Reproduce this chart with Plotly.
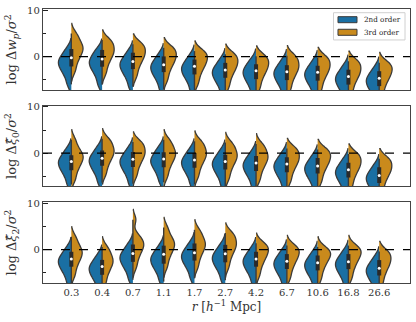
import numpy as np
import plotly.graph_objects as go
from plotly.subplots import make_subplots

R_LABELS = ["0.3", "0.4", "0.7", "1.1", "1.7", "2.7", "4.2", "6.7", "10.6", "16.8", "26.6"]
SERIES = ["2nd order", "3rd order"]

# Panel 1: log Δw_p / σ²
WP_2ND = [
    [-6.0, -4.2, -3.1, -2.3, -1.6, -1.0, -0.4, 0.4, 1.7],
    [-6.1, -4.3, -3.1, -2.3, -1.6, -1.0, -0.4, 0.5, 1.6],
    [-6.5, -4.7, -3.6, -2.8, -2.1, -1.5, -0.9, -0.1, 1.2],
    [-7.1, -5.3, -4.2, -3.4, -2.7, -2.1, -1.5, -0.7, 0.6],
    [-7.4, -5.6, -4.5, -3.7, -3.0, -2.4, -1.8, -1.0, 0.3],
    [-8.2, -6.4, -5.3, -4.5, -3.8, -3.2, -2.6, -1.8, -0.5],
    [-8.1, -6.4, -5.3, -4.5, -3.8, -3.2, -2.6, -1.8, -0.6],
    [-8.4, -6.6, -5.5, -4.7, -4.0, -3.4, -2.8, -2.0, -0.7],
    [-8.6, -6.8, -5.7, -4.9, -4.2, -3.6, -3.0, -2.2, -0.9],
    [-9.6, -7.8, -6.7, -5.9, -5.2, -4.6, -4.0, -3.2, -1.9],
    [-10.0, -8.2, -7.1, -6.3, -5.6, -5.0, -4.4, -3.6, -2.3],
]
WP_3RD = [
    [-3.1, -1.3, -0.1, 0.8, 1.5, 2.1, 2.8, 3.8, 5.0],
    [-3.6, -1.8, -0.6, 0.3, 1.0, 1.6, 2.3, 3.3, 3.6],
    [-4.2, -2.4, -1.2, -0.3, 0.4, 1.0, 1.7, 2.7, 2.7],
    [-5.0, -3.2, -2.0, -1.1, -0.4, 0.2, 0.9, 1.9, 1.8],
    [-5.7, -3.9, -2.7, -1.8, -1.1, -0.5, 0.2, 1.2, 0.9],
    [-6.4, -4.6, -3.4, -2.5, -1.8, -1.2, -0.5, 0.5, 0.4],
    [-6.8, -5.0, -3.8, -2.9, -2.2, -1.6, -0.9, 0.1, 0.0],
    [-7.0, -5.2, -4.0, -3.1, -2.4, -1.8, -1.1, -0.1, 0.2],
    [-7.1, -5.3, -4.1, -3.2, -2.5, -1.9, -1.2, -0.2, -0.2],
    [-7.9, -6.1, -4.9, -4.0, -3.3, -2.7, -2.0, -1.0, -1.0],
    [-8.2, -6.4, -5.2, -4.3, -3.6, -3.0, -2.3, -1.3, -1.6],
]

# Panel 2: log Δξ̂0 / σ²
XI0_2ND = [
    [-6.8, -5.0, -3.9, -3.1, -2.4, -1.8, -1.2, -0.4, 0.9],
    [-6.4, -4.6, -3.5, -2.7, -2.0, -1.4, -0.8, 0.0, 1.3],
    [-6.6, -4.8, -3.7, -2.9, -2.2, -1.6, -1.0, -0.2, 1.1],
    [-6.3, -4.6, -3.5, -2.6, -2.0, -1.4, -0.8, 0.1, 1.3],
    [-6.8, -5.0, -3.9, -3.1, -2.4, -1.8, -1.2, -0.4, 0.9],
    [-7.1, -5.3, -4.2, -3.4, -2.7, -2.1, -1.5, -0.7, 0.6],
    [-7.4, -5.6, -4.5, -3.7, -3.0, -2.4, -1.8, -1.0, 0.3],
    [-7.6, -5.8, -4.7, -3.9, -3.2, -2.6, -2.0, -1.2, 0.1],
    [-8.1, -6.3, -5.2, -4.4, -3.7, -3.1, -2.5, -1.7, -0.4],
    [-8.9, -7.1, -6.0, -5.2, -4.5, -3.9, -3.3, -2.5, -1.2],
    [-10.2, -8.4, -7.3, -6.5, -5.8, -5.2, -4.6, -3.8, -2.5],
]
XI0_3RD = [
    [-5.7, -3.9, -2.7, -1.8, -1.1, -0.5, 0.2, 1.2, 2.9],
    [-4.5, -2.7, -1.5, -0.6, 0.1, 0.7, 1.4, 2.4, 3.1],
    [-4.8, -3.0, -1.8, -0.9, -0.2, 0.4, 1.1, 2.1, 2.4],
    [-5.0, -3.2, -2.0, -1.1, -0.4, 0.2, 0.9, 1.9, 2.9],
    [-5.0, -3.2, -2.0, -1.1, -0.4, 0.2, 0.9, 1.9, 2.6],
    [-5.4, -3.6, -2.4, -1.5, -0.8, -0.2, 0.5, 1.5, 2.3],
    [-5.7, -3.9, -2.7, -1.8, -1.1, -0.5, 0.2, 1.2, 2.0],
    [-6.0, -4.2, -3.0, -2.1, -1.4, -0.8, -0.1, 0.9, 1.0],
    [-6.1, -4.3, -3.1, -2.2, -1.5, -0.9, -0.2, 0.8, 0.6],
    [-7.1, -5.3, -4.1, -3.2, -2.5, -1.9, -1.2, -0.2, -0.2],
    [-8.1, -6.3, -5.1, -4.2, -3.5, -2.9, -2.2, -1.2, -1.2],
]

# Panel 3: log Δξ̂2 / σ²
XI2_2ND = [
    [-7.3, -5.5, -4.4, -3.6, -2.9, -2.3, -1.7, -0.9, 0.4],
    [-8.9, -7.1, -6.0, -5.2, -4.5, -3.9, -3.3, -2.5, -1.2],
    [-6.5, -4.7, -3.6, -2.8, -2.1, -1.5, -0.9, -0.1, 1.2],
    [-6.9, -5.1, -4.0, -3.2, -2.5, -1.9, -1.3, -0.5, 0.8],
    [-6.2, -4.4, -3.3, -2.5, -1.8, -1.2, -0.6, 0.2, 1.5],
    [-6.6, -4.8, -3.7, -2.9, -2.2, -1.6, -1.0, -0.2, 1.1],
    [-7.3, -5.5, -4.4, -3.6, -2.9, -2.3, -1.7, -0.9, 0.4],
    [-7.8, -6.0, -4.9, -4.1, -3.4, -2.8, -2.2, -1.4, -0.1],
    [-8.1, -6.3, -5.2, -4.4, -3.7, -3.1, -2.5, -1.7, -0.4],
    [-7.9, -6.1, -5.0, -4.2, -3.5, -2.9, -2.3, -1.5, -0.2],
    [-9.3, -7.5, -6.4, -5.6, -4.9, -4.3, -3.7, -2.9, -1.6],
]
XI2_3RD = [
    [-5.5, -3.7, -2.5, -1.6, -0.9, -0.3, 0.4, 1.4, 2.8],
    [-7.3, -5.5, -4.3, -3.4, -2.7, -2.1, -1.4, -0.4, 0.6],
    [-3.7, -1.9, -0.7, 0.2, 0.9, 1.5, 2.2, 3.2, 6.5],
    [-3.7, -1.9, -0.7, 0.2, 0.9, 1.5, 2.2, 3.2, 4.8],
    [-3.7, -1.9, -0.7, 0.2, 0.9, 1.5, 2.2, 3.2, 4.3],
    [-3.7, -1.9, -0.7, 0.2, 0.9, 1.5, 2.2, 3.2, 3.6],
    [-5.5, -3.7, -2.5, -1.6, -0.9, -0.3, 0.4, 1.4, 0.9],
    [-6.0, -4.2, -3.0, -2.1, -1.4, -0.8, -0.1, 0.9, 0.4],
    [-6.3, -4.5, -3.3, -2.4, -1.7, -1.1, -0.4, 0.6, -0.3],
    [-6.0, -4.2, -3.0, -2.1, -1.4, -0.8, -0.1, 0.9, 0.2],
    [-7.3, -5.5, -4.3, -3.4, -2.7, -2.1, -1.4, -0.4, -0.5],
]

PANELS = [
    (WP_2ND, WP_3RD, "log Δ<i>w</i><sub><i>p</i></sub>/<i>σ</i><sup>2</sup>"),
    (XI0_2ND, XI0_3RD, "log Δ<i>ξ\u0302</i><sub>0</sub>/<i>σ</i><sup>2</sup>"),
    (XI2_2ND, XI2_3RD, "log Δ<i>ξ\u0302</i><sub>2</sub>/<i>σ</i><sup>2</sup>"),
]

BLUE = "#1a6fa3"
ORANGE = "#c98a1c"
EDGE = "#3a3a3a"
FONT = "DejaVu Serif"

fig = make_subplots(rows=3, cols=1, shared_xaxes=True, vertical_spacing=0.057)

for i, (d2, d3, ylab) in enumerate(PANELS):
    row = i + 1
    for data, side, col, name in ((d2, "negative", BLUE, SERIES[0]), (d3, "positive", ORANGE, SERIES[1])):
        xs, ys = [], []
        for lab, vals in zip(R_LABELS, data):
            xs += [lab] * len(vals)
            ys += vals
        fig.add_trace(go.Violin(
            x=xs, y=ys, side=side, fillcolor=col, name=name,
            showlegend=False, line=dict(color=EDGE, width=1.3),
            width=0.84, bandwidth=1.1, points=False, spanmode="soft",
            scalemode="width", hoverinfo="skip",
        ), row=row, col=1)
    # inner box of the combined data of both halves
    for lab, a, b in zip(R_LABELS, d2, d3):
        v = np.array(a + b)
        q1, med, q3 = np.percentile(v, [25, 50, 75])
        lim = 1.5 * (q3 - q1)
        lo = v[v >= q1 - lim].min()
        hi = v[v <= q3 + lim].max()
        fig.add_trace(go.Scatter(x=[lab, lab], y=[lo, hi], mode="lines",
                                 line=dict(color=EDGE, width=1.4),
                                 showlegend=False, hoverinfo="skip"), row=row, col=1)
        fig.add_trace(go.Scatter(x=[lab, lab], y=[q1, q3], mode="lines",
                                 line=dict(color="#2a2a2a", width=4),
                                 showlegend=False, hoverinfo="skip"), row=row, col=1)
        fig.add_trace(go.Scatter(x=[lab], y=[med], mode="markers",
                                 marker=dict(color="white", size=3),
                                 showlegend=False, hoverinfo="skip"), row=row, col=1)
    fig.add_hline(y=0, line=dict(color="black", width=1.2, dash="dash"), layer="above", row=row, col=1)
    fig.update_yaxes(
        title=dict(text=ylab, font=dict(family=FONT, size=13, color="#333"), standoff=7),
        range=[-7.2, 10.3], tickvals=[0, 10], ticks="inside", ticklen=5, tickwidth=1.3,
        tickcolor="#222", minor=dict(tickvals=[-5, 5], ticks="inside", ticklen=2.5, tickcolor="#222"),
        showgrid=False, zeroline=False, showline=True, mirror=True, linecolor="#444", linewidth=1.3,
        tickfont=dict(family=FONT, size=10, color="#333"),
        row=row, col=1)

fig.update_xaxes(
    type="category", categoryorder="array", categoryarray=R_LABELS, range=[-0.92, 11.0],
    showgrid=False, zeroline=False, showline=True, mirror=True, linecolor="#444", linewidth=1.3,
    ticks="", tickfont=dict(family=FONT, size=10, color="#333"),
)
fig.update_xaxes(title=dict(text="<i>r</i> [<i>h</i><sup>−1</sup> Mpc]",
                            font=dict(family=FONT, size=12, color="#333"), standoff=4), row=3, col=1)

# legend key in the upper panel
LEG_BOX = dict(x0=0.7916, x1=0.9864, y0=0.887, y1=0.9865)
LEG_ROWS = [(SERIES[0], BLUE, 0.961), (SERIES[1], ORANGE, 0.915)]
fig.add_shape(type="rect", xref="paper", yref="paper", **LEG_BOX,
              line=dict(color="#d0d0d0", width=1), fillcolor="rgba(255,255,255,0.85)", layer="above")
for name, col, yc in LEG_ROWS:
    fig.add_shape(type="rect", xref="paper", yref="paper", x0=0.8038, x1=0.8556,
                  y0=yc - 0.011, y1=yc + 0.011, fillcolor=col, line=dict(color=EDGE, width=1),
                  layer="above")
    fig.add_annotation(x=0.868, y=yc, xref="paper", yref="paper", text=name, showarrow=False,
                       xanchor="left", yanchor="middle", font=dict(family=FONT, size=7.2, color="#222"))

fig.update_layout(
    width=416, height=322, margin=dict(l=43, r=6, t=9, b=39),
    paper_bgcolor="white", plot_bgcolor="white",
    violinmode="overlay", violingap=0, violingroupgap=0,
    showlegend=False,
    font=dict(family=FONT),
)

fig.write_html("out.html", config={"displayModeBar": False},
               post_script="document.body.style.margin='0';document.body.style.overflow='hidden';")
